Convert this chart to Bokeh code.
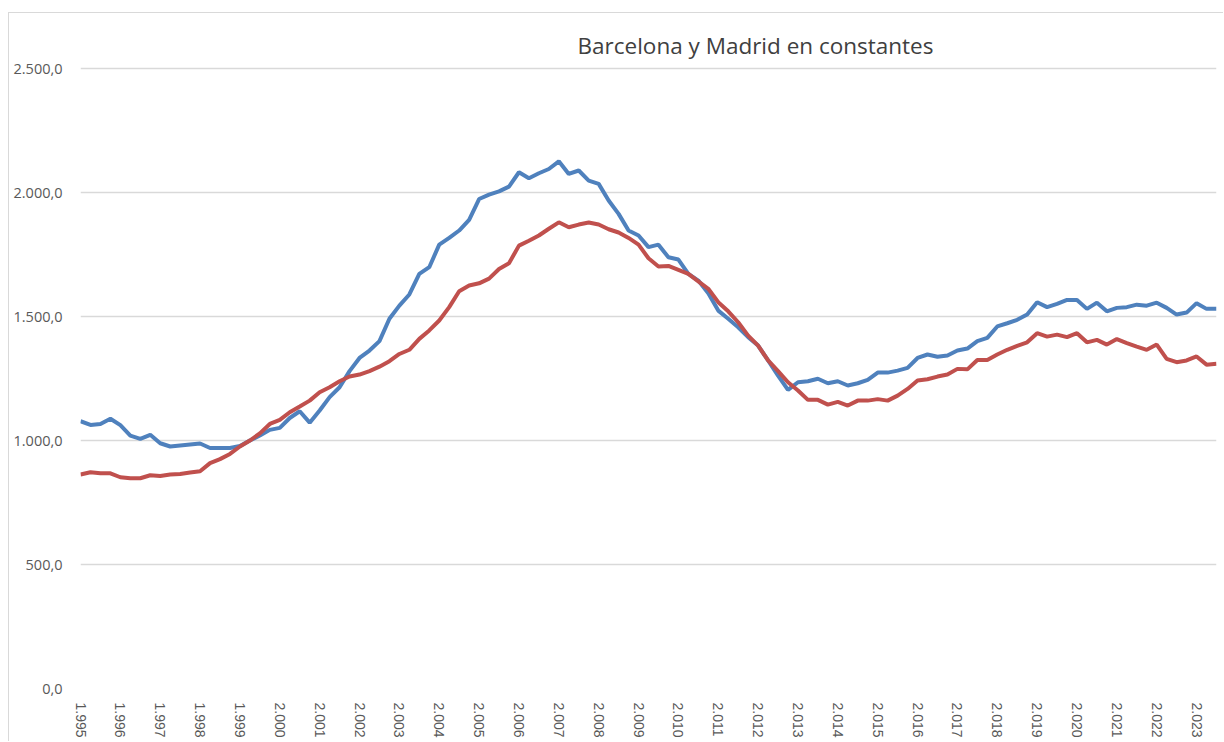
from bokeh.plotting import figure
from bokeh.models import Range1d, FixedTicker, Label, ColumnDataSource
from bokeh.embed import file_html
from bokeh.resources import INLINE

# --- data (quarterly, 1995 Q1 .. 2023 Q3) ---
years = ["1.995", "1.996", "1.997", "1.998", "1.999", "2.000", "2.001", "2.002",
         "2.003", "2.004", "2.005", "2.006", "2.007", "2.008", "2.009", "2.010",
         "2.011", "2.012", "2.013", "2.014", "2.015", "2.016", "2.017", "2.018",
         "2.019", "2.020", "2.021", "2.022", "2.023"]

barcelona = [1078, 1063, 1067, 1088, 1062, 1020, 1007, 1023, 989, 976, 980, 984, 988,
             970, 970, 970, 978, 1000, 1020, 1043, 1051, 1091, 1118, 1072, 1121, 1175,
             1215, 1280, 1333, 1363, 1401, 1491, 1544, 1589, 1672, 1699, 1790, 1817,
             1847, 1890, 1974, 1992, 2005, 2024, 2082, 2058, 2078, 2095, 2126, 2075,
             2089, 2048, 2035, 1968, 1914, 1847, 1827, 1780, 1790, 1739, 1730, 1672,
             1645, 1594, 1524, 1491, 1457, 1417, 1383, 1323, 1262, 1204, 1235, 1239,
             1249, 1231, 1239, 1222, 1231, 1245, 1274, 1274, 1282, 1293, 1333, 1347,
             1338, 1343, 1363, 1371, 1401, 1414, 1460, 1473, 1487, 1508, 1558, 1538,
             1551, 1567, 1567, 1531, 1556, 1521, 1535, 1538, 1548, 1544, 1556, 1535,
             1508, 1516, 1554, 1531, 1531]

madrid = [863, 872, 868, 868, 852, 848, 848, 860, 857, 863, 865, 871, 876, 909, 925,
          946, 976, 1000, 1029, 1067, 1083, 1114, 1137, 1161, 1195, 1215, 1239, 1258,
          1266, 1280, 1298, 1320, 1349, 1366, 1410, 1444, 1484, 1538, 1602, 1625, 1634,
          1653, 1692, 1715, 1786, 1806, 1827, 1854, 1880, 1860, 1871, 1879, 1871, 1852,
          1839, 1817, 1790, 1735, 1702, 1704, 1688, 1672, 1642, 1612, 1558, 1521, 1477,
          1423, 1383, 1323, 1280, 1235, 1202, 1164, 1164, 1145, 1156, 1141, 1161, 1161,
          1167, 1161, 1181, 1208, 1242, 1247, 1258, 1266, 1289, 1287, 1325, 1325, 1347,
          1366, 1382, 1396, 1433, 1419, 1427, 1417, 1433, 1396, 1406, 1387, 1409, 1393,
          1379, 1366, 1387, 1329, 1316, 1323, 1339, 1306, 1310]

y_ticks = [0, 500, 1000, 1500, 2000, 2500]
y_tick_labels = ["0,0", "500,0", "1.000,0", "1.500,0", "2.000,0", "2.500,0"]
title_text = "Barcelona y Madrid en constantes"

n = len(barcelona)
idx = list(range(n))
src = ColumnDataSource(dict(x=idx, bcn=barcelona, mad=madrid))

# frame: 670 px tall, value range extended above 2500 so the title sits inside it
p = figure(width=1215, height=729, output_backend="svg", toolbar_location=None,
           x_range=Range1d(0, n - 1), y_range=Range1d(0, 2702),
           min_border_left=71, min_border_right=8, min_border_top=5,
           min_border_bottom=54)
p.outline_line_color = None
p.background_fill_color = "white"
p.border_fill_color = "white"
p.styles = {"margin-left": "8px", "margin-top": "12px",
            "border-left": "1px solid #d9d9d9", "border-top": "1px solid #d9d9d9"}

p.line("x", "bcn", source=src, color="#4F81BD", line_width=4)
p.line("x", "mad", source=src, color="#C0504D", line_width=4)

# y axis
p.yaxis.ticker = FixedTicker(ticks=y_ticks)
p.yaxis.major_label_overrides = {t: l for t, l in zip(y_ticks, y_tick_labels)}
p.yaxis.axis_line_color = None
p.yaxis.major_tick_line_color = None
p.yaxis.minor_tick_line_color = None
p.yaxis.major_label_standoff = 12
p.yaxis.major_label_text_font = "Open Sans"
p.yaxis.major_label_text_font_size = "14.5px"
p.yaxis.major_label_text_color = "#595959"

# x axis
x_ticks = [4 * k for k in range(len(years))]
p.xaxis.ticker = FixedTicker(ticks=x_ticks)
p.xaxis.major_label_overrides = {t: l for t, l in zip(x_ticks, years)}
p.xaxis.major_label_orientation = "vertical"
p.xaxis.axis_line_color = None
p.xaxis.major_tick_line_color = None
p.xaxis.minor_tick_line_color = None
p.xaxis.major_label_standoff = 8
p.xaxis.major_label_text_font = "Liberation Sans"
p.xaxis.major_label_text_font_size = "14px"
p.xaxis.major_label_text_color = "#595959"

p.xgrid.grid_line_color = None
p.ygrid.grid_line_color = "#d9d9d9"
p.ygrid.grid_line_width = 1.3

title = Label(x=0, y=2500, x_offset=675, y_offset=23, text=title_text,
              text_font="Open Sans", text_font_size="22.5px", text_color="#404040",
              text_baseline="middle", text_align="center")
p.add_layout(title)

open("out.html", "w").write(file_html(p, INLINE))
